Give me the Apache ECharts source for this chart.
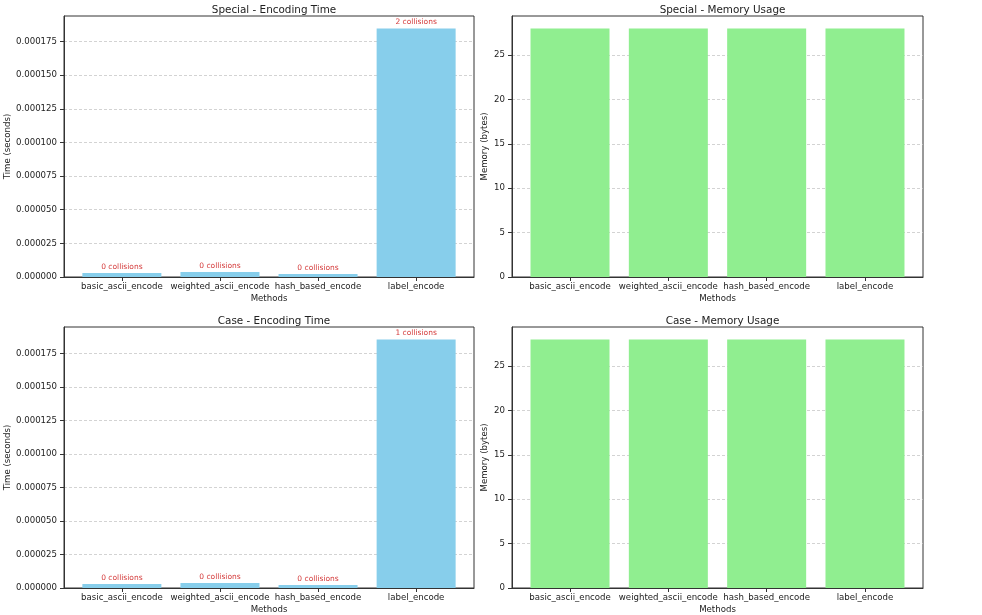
<!DOCTYPE html>
<html>
<head>
<meta charset="utf-8">
<script src="https://cdn.jsdelivr.net/npm/echarts@6/dist/echarts.min.js"></script>
<style>html,body{margin:0;padding:0;background:#fff;}#c{width:982px;height:615px;}</style>
</head>
<body>
<div id="c"></div>
<script>
var methods = ['basic_ascii_encode', 'weighted_ascii_encode', 'hash_based_encode', 'label_encode'];
var specialTime = [0.0000030, 0.0000037, 0.0000022, 0.0001848];
var specialCollisions = [0, 0, 0, 2];
var specialMemory = [28, 28, 28, 28];
var caseTime = [0.0000030, 0.0000037, 0.0000022, 0.0001855];
var caseCollisions = [0, 0, 0, 1];
var caseMemory = [28, 28, 28, 28];
var timeTicks = [0, 0.000025, 0.00005, 0.000075, 0.0001, 0.000125, 0.00015, 0.000175];
var memTicks = [0, 5, 10, 15, 20, 25];
var titles = ['Special - Encoding Time', 'Special - Memory Usage', 'Case - Encoding Time', 'Case - Memory Usage'];

var FONT = 'DejaVu Sans';
var TXT = '#222';
var grids = [
  {left: 64, top: 16, width: 410, height: 261},
  {left: 512, top: 16, width: 411, height: 261},
  {left: 64, top: 327, width: 410, height: 261},
  {left: 512, top: 327, width: 411, height: 261}
];
var idx = [0, 1, 2, 3];

function xAxisFor(i) {
  return {
    gridIndex: i, type: 'value', min: -0.59, max: 3.59,
    name: 'Methods', nameLocation: 'middle', nameGap: 17,
    nameTextStyle: {fontFamily: FONT, fontSize: 8.6, color: TXT},
    axisLine: {show: true, onZero: false, lineStyle: {color: '#333', width: 1}},
    axisTick: {show: true, length: 4, customValues: idx, lineStyle: {color: '#333'}},
    axisLabel: {customValues: idx, fontFamily: FONT, fontSize: 8.6, color: TXT, margin: 5,
      formatter: function (v) { return methods[Math.round(v)]; }},
    splitLine: {show: false}
  };
}
function yAxisFor(i, isTime) {
  var vals = isTime ? timeTicks : memTicks;
  var maxV = isTime ? Math.max.apply(null, i === 0 ? specialTime : caseTime) * 1.05
                    : Math.max.apply(null, i === 1 ? specialMemory : caseMemory) * 1.05;
  return {
    gridIndex: i, type: 'value', min: 0, max: maxV,
    name: isTime ? 'Time (seconds)' : 'Memory (bytes)',
    nameLocation: 'middle', nameGap: isTime ? 52 : 23,
    nameTextStyle: {fontFamily: FONT, fontSize: 8.6, color: TXT},
    axisLine: {show: true, onZero: false, lineStyle: {color: '#333', width: 1}},
    axisTick: {show: true, length: 4, customValues: vals, lineStyle: {color: '#333'}},
    axisLabel: {customValues: vals, fontFamily: FONT, fontSize: 8.6, color: TXT, margin: 7,
      formatter: function (v) { return isTime ? v.toFixed(6) : String(Math.round(v)); }},
    splitLine: {show: true, customValues: vals, lineStyle: {color: '#c8c8c8', type: [3, 2], width: 0.8}}
  };
}

var series = [];
var data = [specialTime, specialMemory, caseTime, caseMemory];
var colls = [specialCollisions, null, caseCollisions, null];
idx.forEach(function (i) {
  var isTime = (i % 2 === 0);
  var s = {
    type: 'bar', xAxisIndex: i, yAxisIndex: i,
    barWidth: 79,
    data: data[i].map(function (v, k) { return [k, v]; }),
    itemStyle: {color: isTime ? '#87CEEB' : '#90EE90'},
    animation: false
  };
  if (isTime) {
    var c = colls[i];
    s.label = {show: true, position: 'top', distance: 2, fontFamily: FONT, fontSize: 7.5, color: '#d43a3a',
      formatter: function (p) { return c[p.dataIndex] + ' collisions'; }};
  }
  series.push(s);
});

var option = {
  animation: false,
  backgroundColor: '#fff',
  title: idx.map(function (i) {
    return {text: titles[i], left: grids[i].left + grids[i].width / 2, textAlign: 'center',
      top: grids[i].top - 16, textStyle: {fontFamily: FONT, fontSize: 10.4, fontWeight: 'normal', color: TXT}};
  }),
  grid: grids.map(function (g) {
    return {left: g.left, top: g.top, width: g.width, height: g.height, show: true,
      borderColor: '#333', borderWidth: 1, backgroundColor: 'transparent'};
  }),
  xAxis: idx.map(function (i) { return xAxisFor(i); }),
  yAxis: idx.map(function (i) { return yAxisFor(i, i % 2 === 0); }),
  series: series
};
var chart = echarts.init(document.getElementById('c'), null, {renderer: 'canvas'});
chart.setOption(option);
</script>
</body>
</html>
